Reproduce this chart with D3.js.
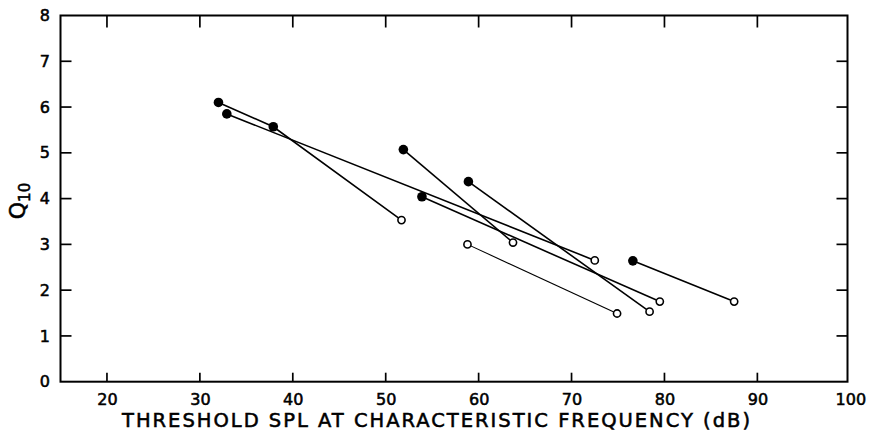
<!DOCTYPE html>
<html>
<head>
<meta charset="utf-8">
<script src="https://cdn.jsdelivr.net/npm/d3@7"></script>
<style>
  html, body { margin: 0; padding: 0; background: #fff; }
  svg { display: block; }
  text { font-family: "DejaVu Sans", "Liberation Sans", Arial, sans-serif; fill: #000;
         stroke: #000; stroke-width: 0.55px; }
</style>
</head>
<body>
<svg id="chart" width="873" height="432"></svg>
<script>
// Q10 versus threshold SPL at characteristic frequency; each line joins
// the measurements of one fibre (filled = before, open = after).
const xA = [32.0, 37.9, 51.7], qA = [6.10, 5.57, 3.53], fillA = [true, true, false];
const xB = [32.9, 72.5],       qB = [5.85, 2.65],       fillB = [true, false];
const xC = [51.9, 63.7],       qC = [5.07, 3.04],       fillC = [true, false];
const xD = [53.9, 79.5],       qD = [4.04, 1.75],       fillD = [true, false];
const xE = [58.9, 78.4],       qE = [4.37, 1.53],       fillE = [true, false];
const xF = [58.8, 74.9],       qF = [3.00, 1.49],       fillF = [false, false];
const xG = [76.6, 87.5],       qG = [2.64, 1.75],       fillG = [true, false];

const xTicks = [20, 30, 40, 50, 60, 70, 80, 90, 100];
const yTicks = [0, 1, 2, 3, 4, 5, 6, 7, 8];

const series = [
  { x: xA, q: qA, f: fillA, thin: false },
  { x: xB, q: qB, f: fillB, thin: false },
  { x: xC, q: qC, f: fillC, thin: false },
  { x: xD, q: qD, f: fillD, thin: false },
  { x: xE, q: qE, f: fillE, thin: false },
  { x: xF, q: qF, f: fillF, thin: true },
  { x: xG, q: qG, f: fillG, thin: false }
].map(s => ({ thin: s.thin, pts: s.x.map((v, i) => ({ x: v, q: s.q[i], filled: s.f[i] })) }));

const svg = d3.select("#chart");
const x = d3.scaleLinear().domain([15, 99.7]).range([60.5, 847.5]);
const y = d3.scaleLinear().domain([0, 8]).range([381.7, 15.5]);

const [x0, x1] = x.range();
const [yb, yt] = y.range();

// frame
svg.append("rect")
  .attr("x", x0).attr("y", yt)
  .attr("width", x1 - x0).attr("height", yb - yt)
  .attr("fill", "none").attr("stroke", "#000").attr("stroke-width", 2);

const innerX = xTicks.filter(v => x(v) < x1 - 2);
const innerY = yTicks.filter(v => v > 0 && v < 8);

// bottom axis: labels plus inward ticks
const bottom = svg.append("g").attr("transform", `translate(0,${yb})`)
  .call(d3.axisBottom(x).tickValues(xTicks).tickSize(0).tickPadding(12).tickFormat(d3.format("d")));
bottom.select(".domain").remove();
bottom.selectAll("text").attr("font-size", 16).attr("font-family", null);

const tick = (g, data, a) => g.selectAll("line").data(data).join("line")
  .attr("x1", a.x1).attr("x2", a.x2).attr("y1", a.y1).attr("y2", a.y2)
  .attr("stroke", "#000").attr("stroke-width", 1.7);

tick(svg.append("g"), innerX, { x1: d => x(d), x2: d => x(d), y1: yb, y2: yb - 9 });
tick(svg.append("g"), innerX, { x1: d => x(d), x2: d => x(d), y1: yt, y2: yt + 12 });

// left axis
const left = svg.append("g").attr("transform", `translate(${x0},0)`)
  .call(d3.axisLeft(y).tickValues(yTicks).tickSize(0).tickPadding(10.5).tickFormat(d3.format("d")));
left.select(".domain").remove();
left.selectAll("text").attr("font-size", 16).attr("font-family", null);

tick(svg.append("g"), innerY, { x1: x0, x2: x0 + 11, y1: d => y(d), y2: d => y(d) });
tick(svg.append("g"), innerY, { x1: x1, x2: x1 - 11, y1: d => y(d), y2: d => y(d) });

// axis titles
svg.append("text")
  .attr("x", 436).attr("y", 427)
  .attr("text-anchor", "middle")
  .attr("font-size", 19.5)
  .attr("textLength", 628).attr("lengthAdjust", "spacing")
  .text("THRESHOLD SPL AT CHARACTERISTIC FREQUENCY (dB)");

const yl = svg.append("text")
  .attr("transform", "translate(25,201) rotate(-90)")
  .attr("text-anchor", "middle")
  .attr("font-size", 22);
yl.append("tspan").text("Q");
yl.append("tspan").attr("dy", 5).attr("font-size", 15).text("10");

// connecting lines
const line = d3.line().x(d => x(d.x)).y(d => y(d.q));
svg.append("g").selectAll("path").data(series).join("path")
  .attr("d", d => line(d.pts))
  .attr("fill", "none").attr("stroke", "#000")
  .attr("stroke-width", d => d.thin ? 1.1 : 1.6);

// markers
const pts = series.flatMap(s => s.pts);
svg.append("g").selectAll("circle").data(pts.filter(p => !p.filled)).join("circle")
  .attr("cx", d => x(d.x)).attr("cy", d => y(d.q)).attr("r", 3.6)
  .attr("fill", "#fff").attr("stroke", "#000").attr("stroke-width", 1.6);
svg.append("g").selectAll("circle").data(pts.filter(p => p.filled)).join("circle")
  .attr("cx", d => x(d.x)).attr("cy", d => y(d.q)).attr("r", 4.8)
  .attr("fill", "#000");
</script>
</body>
</html>
